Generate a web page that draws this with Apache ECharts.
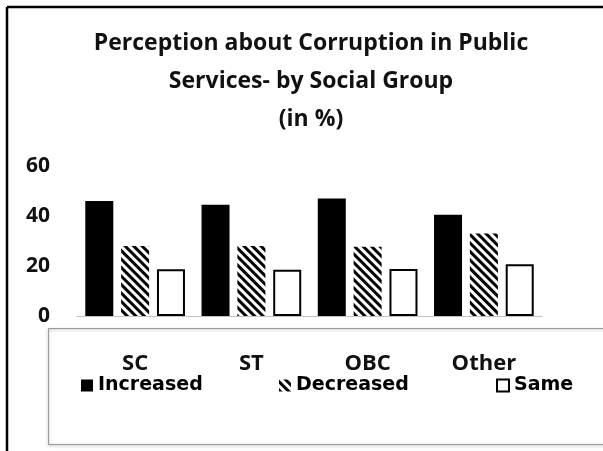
<!DOCTYPE html>
<html>
<head>
<meta charset="utf-8">
<script src="https://cdn.jsdelivr.net/npm/echarts@6/dist/echarts.min.js"></script>
<style>
html,body{margin:0;padding:0;background:#fff;}
#chart{width:603px;height:451px;}
</style>
</head>
<body>
<div id="chart"></div>
<script>
var categories = ['SC', 'ST', 'OBC', 'Other'];
var increased = [46, 44.5, 47, 40.5];
var decreased = [28, 28, 27.7, 33];
var same = [18.7, 18.5, 18.8, 20.7];
var yTicks = [0, 20, 40, 60];
var titleText = 'Perception about Corruption in Public\nServices- by Social Group\n(in %)';

var chart = echarts.init(document.getElementById('chart'), null, {renderer: 'canvas'});
var hatch = {
  symbol: 'rect', symbolSize: 1,
  dashArrayX: [1, 0], dashArrayY: [3, 3],
  rotation: Math.PI / 4, color: '#000'
};
var legendText = {fontFamily: 'DejaVu Sans', fontWeight: 'bold', fontSize: 19, color: '#000'};
function lg(name, x) {
  return {data: [name], left: x, top: 376, padding: 0, icon: 'rect', itemWidth: 12, itemHeight: 12, textStyle: legendText};
}
var option = {
  animation: false,
  backgroundColor: '#fff',
  title: {
    text: titleText,
    left: 306, top: 19, textAlign: 'center',
    textStyle: {fontFamily: 'Open Sans', fontWeight: 'bold', fontSize: 23, lineHeight: 38, color: '#111'}
  },
  legend: [lg('Increased', 81), lg('Decreased', 279), lg('Same', 496)],
  grid: {left: 77, right: 61, top: 166, bottom: 135, containLabel: false},
  xAxis: {
    type: 'category', data: categories,
    axisLine: {lineStyle: {color: '#c4c4c4', width: 1}},
    axisTick: {show: false},
    axisLabel: {margin: 37, fontFamily: 'Open Sans', fontWeight: 'bold', fontSize: 22, color: '#111'}
  },
  yAxis: {
    type: 'value', min: 0, max: 60, interval: 20,
    axisLine: {show: false}, axisTick: {show: false}, splitLine: {show: false},
    axisLabel: {margin: 27, fontFamily: 'Open Sans', fontWeight: 'bold', fontSize: 21, color: '#111',
      formatter: function (v) { return yTicks.indexOf(v) >= 0 ? String(v) : ''; }}
  },
  graphic: [
    {type: 'line', shape: {x1: 7, y1: 7, x2: 603, y2: 7}, style: {stroke: '#000', lineWidth: 2.5}},
    {type: 'line', shape: {x1: 7, y1: 7, x2: 7, y2: 451}, style: {stroke: '#000', lineWidth: 2.5}},
    {type: 'rect', z: -1, shape: {x: 48.5, y: 328.5, width: 600, height: 116},
      style: {fill: 'rgba(0,0,0,0)', stroke: '#9a9a9a', lineWidth: 1, shadowBlur: 3, shadowColor: 'rgba(0,0,0,0.35)', shadowOffsetX: 0, shadowOffsetY: 1}}
  ],
  series: [
    {name: 'Increased', type: 'bar', data: increased, barWidth: 28, barGap: '28%', barCategoryGap: '12%',
      itemStyle: {color: '#000'}},
    {name: 'Decreased', type: 'bar', data: decreased, barWidth: 28,
      itemStyle: {color: '#fff', decal: hatch}},
    {name: 'Same', type: 'bar', data: same, barWidth: 28,
      itemStyle: {color: '#fff', borderColor: '#000', borderWidth: 2}}
  ]
};
chart.setOption(option);
</script>
</body>
</html>
